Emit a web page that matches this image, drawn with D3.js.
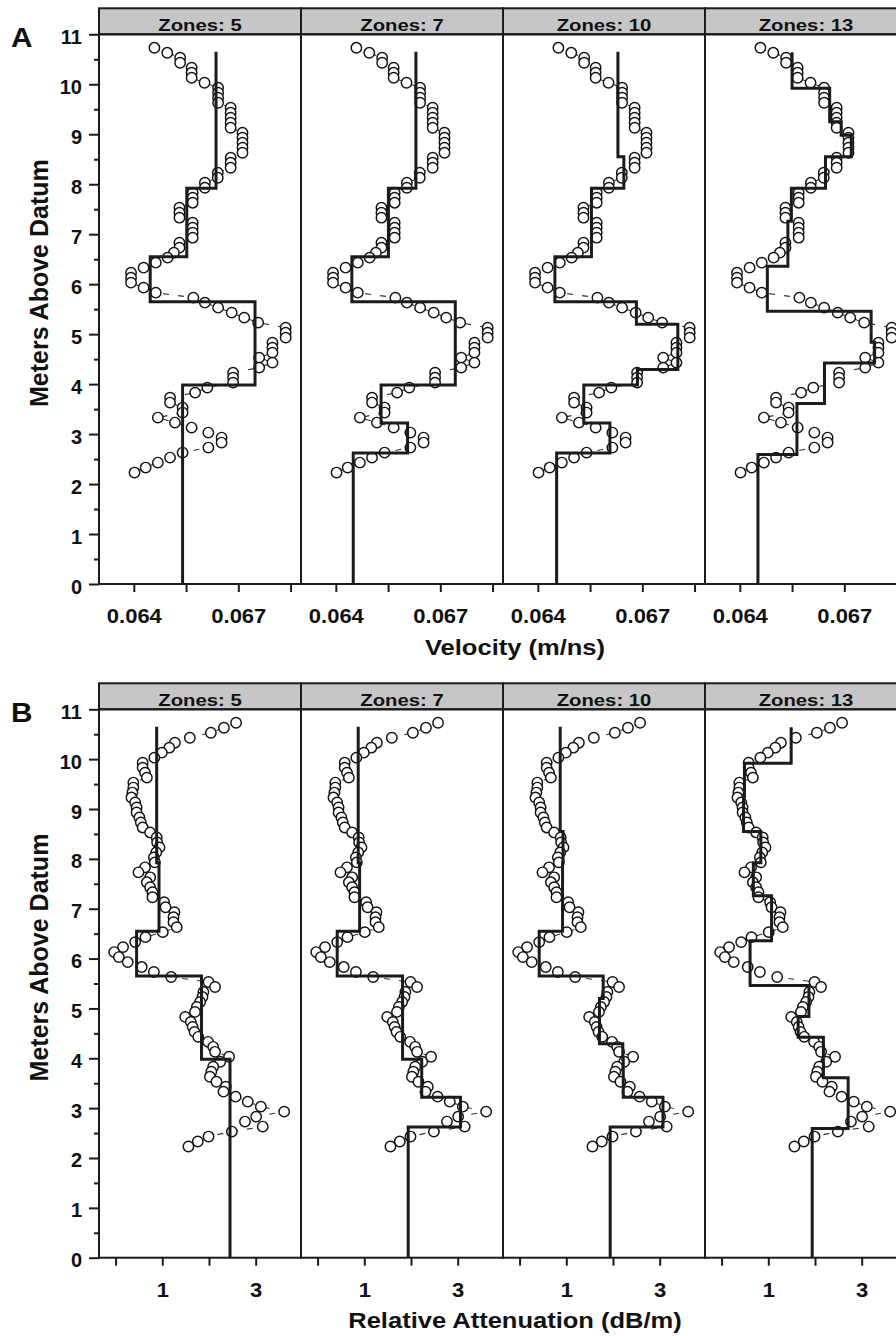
<!DOCTYPE html>
<html>
<head>
<meta charset="utf-8">
<script src="https://cdn.jsdelivr.net/npm/d3@7"></script>
<style>
  html, body { margin: 0; padding: 0; background: #fff; }
  svg { display: block; }
</style>
</head>
<body>
<script>
// Sample depths (m above datum), shared by both profiles
const depth = [
  10.73, 10.63, 10.53, 10.43, 10.33, 10.23, 10.13, 10.03,
  9.93, 9.83, 9.73, 9.63, 9.53, 9.43, 9.33, 9.23, 9.13, 9.03,
  8.93, 8.83, 8.73, 8.63, 8.53, 8.43, 8.33, 8.23, 8.13, 8.03,
  7.93, 7.83, 7.73, 7.63, 7.53, 7.43, 7.33, 7.23, 7.13, 7.03,
  6.93, 6.83, 6.73, 6.63, 6.53, 6.43, 6.33, 6.23, 6.13, 6.03,
  5.93, 5.83, 5.73, 5.63, 5.53, 5.43, 5.33, 5.23, 5.13, 5.03,
  4.93, 4.83, 4.73, 4.63, 4.53, 4.43, 4.33, 4.23, 4.13, 4.03,
  3.93, 3.83, 3.73, 3.63, 3.53, 3.43, 3.33, 3.23, 3.13, 3.03,
  2.93, 2.83, 2.73, 2.63, 2.53, 2.43, 2.33, 2.23
];

// Measured velocity (m/ns)
const velocity = [
  0.06459, 0.06496, 0.06533, 0.06533, 0.06566, 0.06566, 0.06566, 0.06603,
  0.06642, 0.06642, 0.06642, 0.06642, 0.06678, 0.06678, 0.06678, 0.06678, 0.06678, 0.06712,
  0.06712, 0.06712, 0.06712, 0.06712, 0.06678, 0.06678, 0.06678, 0.06641, 0.06641, 0.06604,
  0.06604, 0.06569, 0.06569, 0.06569, 0.06531, 0.06531, 0.06531, 0.06569, 0.06569, 0.06569,
  0.06569, 0.06531, 0.06531, 0.06515, 0.06497, 0.06463, 0.06428, 0.06392, 0.06392, 0.06392,
  0.06428, 0.06463, 0.06571, 0.06604, 0.06642, 0.06681, 0.06717, 0.06757, 0.06836, 0.06836,
  0.06836, 0.06798, 0.06798, 0.06798, 0.06760, 0.06798, 0.06760, 0.06685, 0.06685, 0.06685,
  0.06611, 0.06576, 0.06504, 0.06504, 0.06540, 0.06540, 0.06469, 0.06518, 0.06566, 0.06614,
  0.06652, 0.06652, 0.06614, 0.06540, 0.06504, 0.06469, 0.06434, 0.06402
];

// Measured relative attenuation (dB/m)
const attenuation = [
  2.58, 2.32, 2.04, 1.59, 1.27, 1.15, 0.99, 0.83,
  0.58, 0.58, 0.63, 0.67, 0.38, 0.38, 0.36, 0.34, 0.42, 0.45,
  0.45, 0.51, 0.54, 0.58, 0.74, 0.88, 0.89, 0.94, 0.87, 0.82,
  0.84, 0.63, 0.49, 0.74, 0.67, 0.74, 0.79, 0.79, 1.04, 1.07,
  1.26, 1.24, 1.24, 1.31, 1.01, 0.64, 0.42, 0.16, -0.03, 0.07,
  0.26, 0.56, 0.82, 1.19, 1.99, 2.13, 1.88, 1.86, 1.81, 1.74,
  1.70, 1.49, 1.61, 1.65, 1.69, 1.77, 1.98, 2.09, 2.13, 2.43,
  2.24, 2.09, 2.05, 2.02, 2.16, 2.36, 2.31, 2.57, 2.83, 3.11,
  3.61, 3.01, 2.77, 3.15, 2.49, 1.99, 1.76, 1.56
];

// Zone counts shown in the strips
const zoneCounts = [5, 7, 10, 13];

// Zone boundaries (top to bottom, m above datum) for each zonation
const zoneBounds5  = [10.65, 7.92, 6.55, 5.65, 3.98, 0];
const zoneBounds7  = [10.65, 7.92, 6.55, 5.65, 3.98, 3.22, 2.62, 0];
const zoneBounds10 = [10.65, 8.55, 7.92, 6.55, 5.65, 5.2, 4.29, 3.98, 3.22, 2.62, 0];
const zoneBounds13 = [10.64, 9.92, 9.25, 8.98, 8.55, 7.92, 7.26, 6.36, 5.46, 4.84, 4.42, 3.61, 2.59, 0];

// Zoned velocity estimates (m/ns)
const velZones5  = [0.06636, 0.06552, 0.06447, 0.06748, 0.06540];
const velZones7  = [0.06630, 0.06551, 0.06446, 0.06743, 0.06530, 0.06606, 0.06450];
const velZones10 = [0.06630, 0.06647, 0.06554, 0.06449, 0.06683, 0.06802, 0.06686, 0.06532, 0.06607, 0.06454];
const velZones13 = [0.06550, 0.06658, 0.06691, 0.06720, 0.06646, 0.06548, 0.06538, 0.06479, 0.06777, 0.06787, 0.06643, 0.06564, 0.06452];

// Zoned attenuation estimates (dB/m)
const attZones5  = [0.88, 0.93, 0.45, 1.84, 2.45];
const attZones7  = [0.87, 0.90, 0.42, 1.82, 2.23, 3.06, 1.94];
const attZones10 = [0.87, 0.93, 0.92, 0.42, 1.79, 1.71, 2.21, 2.22, 3.07, 1.94];
const attZones13 = [1.49, 0.49, 0.47, 0.47, 0.84, 0.68, 1.07, 0.61, 1.87, 1.64, 2.18, 2.71, 1.94];

// Axis ticks
const heightTicks = [0, 1, 2, 3, 4, 5, 6, 7, 8, 9, 10, 11];
const heightMinorTicks = [0.5, 1.5, 2.5, 3.5, 4.5, 5.5, 6.5, 7.5, 8.5, 9.5, 10.5];
const velocityTicks = [0.064, 0.0655, 0.067, 0.0685];
const velocityTickLabels = [0.064, 0.067];
const attenuationTicks = [0, 1, 2, 3];
const attenuationTickLabels = [1, 3];

// ---------------------------------------------------------------
const FONT = "'Liberation Sans', Arial, Helvetica, sans-serif";
const INK = "#1b1b1b";
const panelLeft = 99, panelW = 202;

const zoneBounds = [zoneBounds5, zoneBounds7, zoneBounds10, zoneBounds13];

const rows = [
  {
    letter: "A", stripTop: 8.3, top: 34.3, bottom: 584,
    values: velocity, zones: [velZones5, velZones7, velZones10, velZones13],
    domain: [0.063, 0.0688], ticks: velocityTicks, tickLabels: velocityTickLabels,
    format: d3.format(".3f"), title: "Velocity (m/ns)"
  },
  {
    letter: "B", stripTop: 683.3, top: 709.3, bottom: 1257.7,
    values: attenuation, zones: [attZones5, attZones7, attZones10, attZones13],
    domain: [-0.355, 3.97], ticks: attenuationTicks, tickLabels: attenuationTickLabels,
    format: d3.format("d"), title: "Relative Attenuation (dB/m)"
  }
];

const svg = d3.select("body").append("svg")
  .attr("width", 896).attr("height", 1336)
  .style("font-family", FONT);

rows.forEach(row => {
  const g = svg.append("g");
  const y = d3.scaleLinear().domain([0, 11]).range([row.bottom, row.top]);
  const x = d3.scaleLinear().domain(row.domain).range([0, panelW]);
  const pts = depth.map((d, i) => ({ d, v: row.values[i] }));

  zoneCounts.forEach((n, col) => {
    const x0 = panelLeft + col * panelW;
    const pg = g.append("g").attr("transform", `translate(${x0},0)`);

    // strip header
    pg.append("rect")
      .attr("x", 0).attr("y", row.stripTop)
      .attr("width", panelW).attr("height", row.top - row.stripTop)
      .attr("fill", "#c6c6c6").attr("stroke", INK).attr("stroke-width", 2);
    pg.append("text")
      .attr("transform", `translate(${panelW / 2},${row.top - 3.6}) scale(1.27,1)`)
      .attr("text-anchor", "middle")
      .attr("font-size", 16).attr("font-weight", "bold").attr("fill", "#111")
      .text(`Zones: ${n}`);

    // x axis
    const axis = d3.axisBottom(x)
      .tickValues(row.ticks)
      .tickSize(8).tickSizeOuter(0)
      .tickFormat(t => row.tickLabels.includes(t) ? row.format(t) : "");
    const ax = pg.append("g").attr("transform", `translate(0,${row.bottom})`).call(axis);
    ax.select(".domain").remove();
    ax.selectAll(".tick line").attr("stroke", INK).attr("stroke-width", 2);
    ax.selectAll(".tick text")
      .attr("y", 39).attr("dy", 0)
      .attr("transform", "scale(1.1,1)")
      .attr("font-family", FONT).attr("font-size", 20).attr("font-weight", "bold")
      .attr("fill", "#111");

    // connecting line through the measured profile
    pg.append("path")
      .datum(pts)
      .attr("fill", "none").attr("stroke", "#333").attr("stroke-width", 1.1)
      .attr("stroke-dasharray", "6,9")
      .attr("d", d3.line().x(p => x(p.v)).y(p => y(p.d)));

    // measured points
    pg.append("g").selectAll("circle")
      .data(pts).join("circle")
      .attr("cx", p => x(p.v)).attr("cy", p => y(p.d))
      .attr("r", 5.2)
      .attr("fill", "#fff").attr("stroke", "#111").attr("stroke-width", 1.45);

    // zoned step profile
    const b = zoneBounds[col];
    const vals = row.zones[col];
    const verts = [];
    vals.forEach((v, i) => { verts.push([v, b[i]]); verts.push([v, b[i + 1]]); });
    pg.append("path")
      .datum(verts)
      .attr("fill", "none").attr("stroke", INK).attr("stroke-width", 3)
      .attr("stroke-linejoin", "miter")
      .attr("d", d3.line().x(p => x(p[0])).y(p => y(p[1])));

    // panel frame
    pg.append("rect")
      .attr("x", 0).attr("y", row.top)
      .attr("width", panelW).attr("height", row.bottom - row.top)
      .attr("fill", "none").attr("stroke", INK).attr("stroke-width", 2);
  });

  // y axis (left of first panel)
  const yAxis = d3.axisLeft(y).tickValues(heightTicks).tickSize(10).tickSizeOuter(0)
    .tickFormat(d3.format("d"));
  const ya = g.append("g").attr("transform", `translate(${panelLeft},0)`).call(yAxis);
  ya.select(".domain").remove();
  ya.selectAll(".tick line").attr("stroke", INK).attr("stroke-width", 2);
  ya.selectAll(".tick text")
    .attr("x", -17).attr("dy", 9)
    .attr("font-family", FONT).attr("font-size", 20).attr("font-weight", "bold")
    .attr("fill", "#111");
  const yMinor = d3.axisLeft(y).tickValues(heightMinorTicks).tickSize(5).tickFormat("");
  const ym = g.append("g").attr("transform", `translate(${panelLeft},0)`).call(yMinor);
  ym.select(".domain").remove();
  ym.selectAll(".tick line").attr("stroke", INK).attr("stroke-width", 2);

  // axis titles
  g.append("text")
    .attr("transform", `translate(48,${(row.top + row.bottom) / 2 - 26}) rotate(-90)`)
    .attr("text-anchor", "middle")
    .attr("font-size", 25).attr("font-weight", "bold").attr("fill", "#111")
    .text("Meters Above Datum");
  g.append("text")
    .attr("transform", `translate(515,${row.bottom + 70.6}) scale(1.16,1)`)
    .attr("text-anchor", "middle")
    .attr("font-size", 22).attr("font-weight", "bold").attr("fill", "#111")
    .text(row.title);

  // panel letter
  g.append("text")
    .attr("transform", `translate(11,${row.stripTop + 39}) scale(1.1,1)`)
    .attr("font-size", 27).attr("font-weight", "bold").attr("fill", "#111")
    .text(row.letter);
});
</script>
</body>
</html>
